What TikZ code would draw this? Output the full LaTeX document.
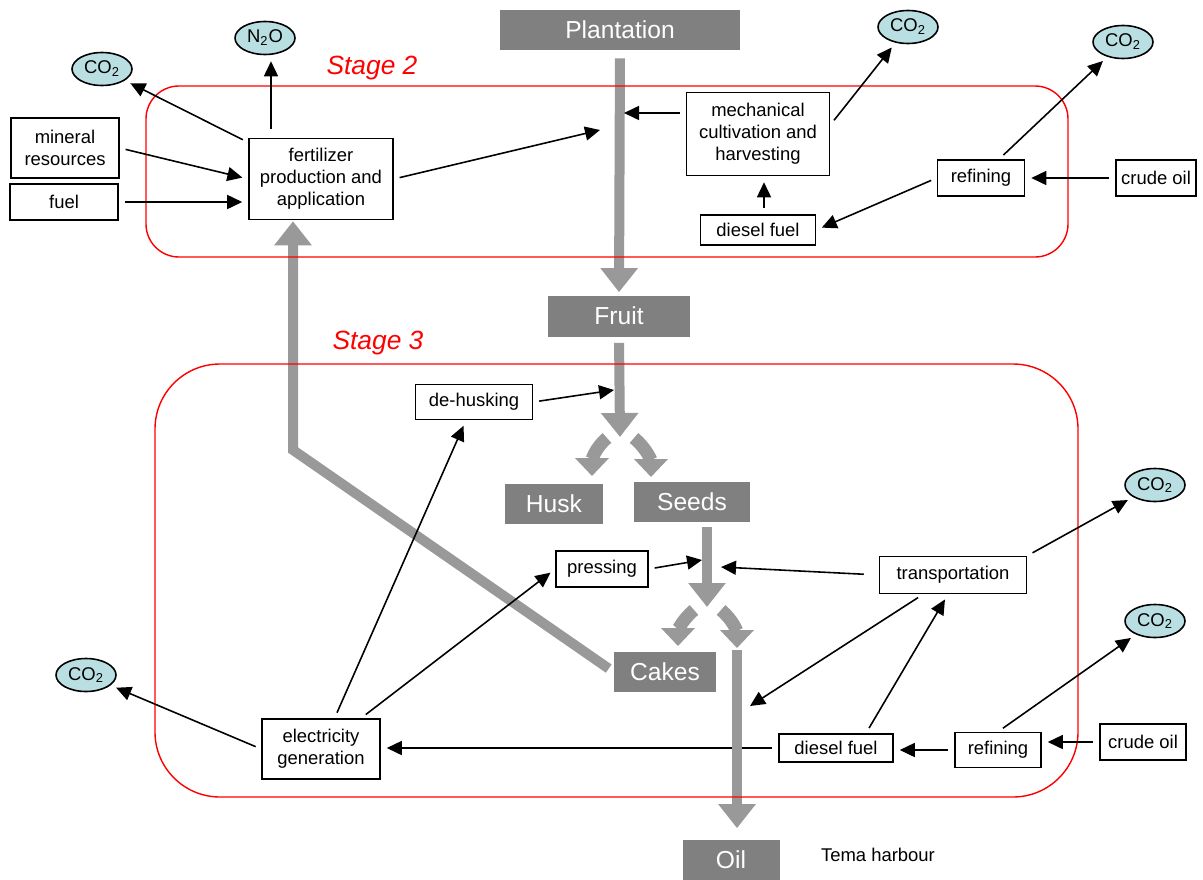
\documentclass[tikz,border=0pt]{standalone}
\usepackage{fontspec}
\setmainfont{Liberation Sans}
\usetikzlibrary{arrows.meta,shapes.geometric}
\definecolor{boxgray}{RGB}{128,128,128}
\definecolor{flowgray}{RGB}{153,153,153}
\definecolor{gasblue}{RGB}{186,223,226}
\tikzset{
  pnode/.style = {draw=black, line width=0.9pt, fill=white, align=center,
    inner sep=1pt, font=\fontsize{10.5}{12.5}\selectfont},
  gnode/.style = {fill=boxgray, text=white, inner sep=0pt,
    font=\fontsize{14}{16}\selectfont},
  gasnode/.style = {ellipse, draw=black, line width=0.9pt, fill=gasblue,
    inner sep=0pt, minimum width=1.2cm, minimum height=0.66cm,
    font=\fontsize{10.5}{12}\selectfont},
  link/.style = {line width=0.9pt, -{Triangle[length=0.3cm,width=0.28cm]},
    shorten <=0.12cm, shorten >=0.12cm},
  flow/.style = {flowgray, line width=0.2cm,
    -{Triangle[length=0.48cm,width=0.72cm]}},
  fork/.style = {flowgray, line width=0.26cm,
    -{Triangle[length=0.36cm,width=0.66cm]}},
  stageframe/.style = {red, line width=0.8pt},
  stagelabel/.style = {red, font=\fontsize{15}{18}\selectfont\itshape}
}

\begin{document}
\begin{tikzpicture}[x=0.02cm,y=-0.02cm]
    \useasboundingbox (0,0) rectangle (1203,879);
    % main flow
    \node[gnode, minimum width=4.8cm, minimum height=0.8cm] (plant) at (620,30) {Plantation};
    \node[gnode, minimum width=2.84cm, minimum height=0.82cm] (fruit) at (619,316) {Fruit};
    \node[gnode, minimum width=1.98cm, minimum height=0.8cm] (husk) at (554,504) {Husk};
    \node[gnode, minimum width=2.32cm, minimum height=0.8cm] (seeds) at (692,502) {Seeds};
    \node[gnode, minimum width=2.04cm, minimum height=0.8cm] (cakes) at (665,672) {Cakes};
    \node[gnode, minimum width=1.94cm, minimum height=0.82cm] (oil) at (731,860) {Oil};
    \node[font=\fontsize{10.5}{12}\selectfont] (harbour) at (878,855) {Tema harbour};

    % stage 2
    \node[stagelabel] (stagetwo) at (372,68) {Stage 2};
    \node[pnode, minimum width=2.16cm, minimum height=1.2cm] (mineral) at (65,148) {mineral\\resources};
    \node[pnode, minimum width=2.16cm, minimum height=0.72cm] (fuel) at (64,202) {fuel};
    \node[pnode, minimum width=2.88cm, minimum height=1.62cm] (fert) at (321,179) {fertilizer\\production and\\application};
    \node[pnode, minimum width=2.86cm, minimum height=1.66cm] (mech) at (758,134) {mechanical\\cultivation and\\harvesting};
    \node[pnode, minimum width=2.3cm, minimum height=0.6cm] (dieseltop) at (758,230) {diesel fuel};
    \node[pnode, minimum width=1.74cm, minimum height=0.72cm] (reftop) at (981,178) {refining};
    \node[pnode, minimum width=1.6cm, minimum height=0.72cm] (crudetop) at (1156,178) {crude oil};
    \node[gasnode] (co2a) at (102,69) {CO\textsubscript{2}};
    \node[gasnode] (n2o) at (265,38) {N\textsubscript{2}O};
    \node[gasnode] (co2b) at (908,27) {CO\textsubscript{2}};
    \node[gasnode] (co2c) at (1123,42) {CO\textsubscript{2}};

    % stage 3
    \node[stagelabel] (stagethree) at (378,343) {Stage 3};
    \node[pnode, minimum width=2.34cm, minimum height=0.7cm] (dehusk) at (474,402) {de-husking};
    \node[pnode, minimum width=1.84cm, minimum height=0.72cm] (press) at (602,569) {pressing};
    \node[pnode, minimum width=2.94cm, minimum height=0.74cm] (trans) at (953,575) {transportation};
    \node[pnode, minimum width=2.28cm, minimum height=0.56cm] (dieselbot) at (836,748) {diesel fuel};
    \node[pnode, minimum width=1.72cm, minimum height=0.7cm] (refbot) at (998,750) {refining};
    \node[pnode, minimum width=1.72cm, minimum height=0.72cm] (crudebot) at (1143,742) {crude oil};
    \node[pnode, minimum width=2.36cm, minimum height=1.2cm] (elec) at (321,749) {electricity\\generation};
    \node[gasnode] (co2d) at (1155,485) {CO\textsubscript{2}};
    \node[gasnode] (co2e) at (1155,621) {CO\textsubscript{2}};
    \node[gasnode] (co2f) at (86,675) {CO\textsubscript{2}};

    % points on the flow
    \coordinate (fertin) at (600,130);
    \coordinate (mechin) at (624,113);
    \coordinate (split1) at (620,437);
    \coordinate (dehin) at (614,390);
    \coordinate (split2) at (707,607);
    \coordinate (pressin) at (702,560);
    \coordinate (transin) at (721,567);
    \coordinate (oilstart) at (737,650);
    \coordinate (oilin) at (750,706);
    \coordinate (bend) at (293,450);
    \coordinate (huskout) at (607,438);
    \coordinate (huskin) at (592,476);
    \coordinate (seedsout) at (634,438);
    \coordinate (seedsin) at (651,477);
    \coordinate (cakesout) at (694,610);
    \coordinate (cakesin) at (678,646);
    \coordinate (oilout) at (721,610);
    \coordinate (oilforkin) at (737,648);

    \draw[link] (dieselbot.west) -- (dieselbot.west -| elec.east);

    % gray flow
    \draw[flow, shorten <=0.16cm, shorten >=0.06cm] (plant.south) -- (fruit.north);
    \draw[flow, shorten <=0.12cm] (fruit.south) -- (split1);
    \draw[fork] (huskout) to[out=220,in=90] (huskin);
    \draw[fork] (seedsout) to[out=-40,in=90] (seedsin);
    \draw[flow, shorten <=0.1cm] (seeds.south -| split2) -- (split2);
    \draw[fork] (cakesout) to[out=220,in=90] (cakesin);
    \draw[fork] (oilout) to[out=-40,in=90] (oilforkin);
    \draw[flow, shorten >=0.22cm] (oilstart) -- (oilstart |- oil.north);
    \draw[flow, shorten <=0.12cm, shorten >=0.02cm] (cakes.west) -- (bend) -- (bend |- fert.south);

    \draw[stageframe, rounded corners=0.66cm] (146,86) rectangle (1068,257);
    \draw[stageframe, rounded corners=1.3cm] (155,364) rectangle (1078,797);

    % stage 2 links
    \draw[link] (fert) -- (co2a);
    \draw[link, shorten <=0.18cm] ([xshift=0.12cm]fert.north -| n2o) -- ([xshift=0.12cm]n2o.south);
    \draw[link] (mineral.east) -- (fert.west);
    \draw[link] (fuel.east) -- (fuel.east -| fert.west);
    \draw[link, shorten >=0pt] (fert.east) -- (fertin);
    \draw[link, shorten >=0pt] (mech.west |- mechin) -- (mechin);
    \draw[link] ([yshift=0.18cm]mech.east) -- (co2b);
    \draw[link] ([xshift=0.12cm]dieseltop.north) -- ([xshift=0.12cm]mech.south);
    \draw[link] (reftop.west) -- (dieseltop.east);
    \draw[link] (crudetop) -- (reftop);
    \draw[link] ([xshift=0.36cm]reftop.north) -- (co2c);

    % stage 3 links
    \draw[link, shorten >=0pt] (dehusk.east) -- (dehin);
    \draw[link, shorten >=0pt] (press.east) -- (pressin);
    \draw[link, shorten <=0.3cm, shorten >=0pt] (trans.west) -- (transin);
    \draw[link] (trans.north east) -- (co2d);
    \draw[link, shorten >=0pt] (trans) -- (oilin);
    \draw[link] ([xshift=0.6cm]dieselbot.north) -- ([xshift=-0.1cm]trans.south);
    \draw[link] (refbot.west) -- (refbot.west -| dieselbot.east);
    \draw[link] (crudebot.west) -- (crudebot.west -| refbot.east);
    \draw[link] (refbot.north) -- (co2e);
    \draw[link] (elec.west) -- (co2f);
    \draw[link] (elec) -- (dehusk);
    \draw[link] (elec) -- (press.west);
  \end{tikzpicture}
\end{document}
